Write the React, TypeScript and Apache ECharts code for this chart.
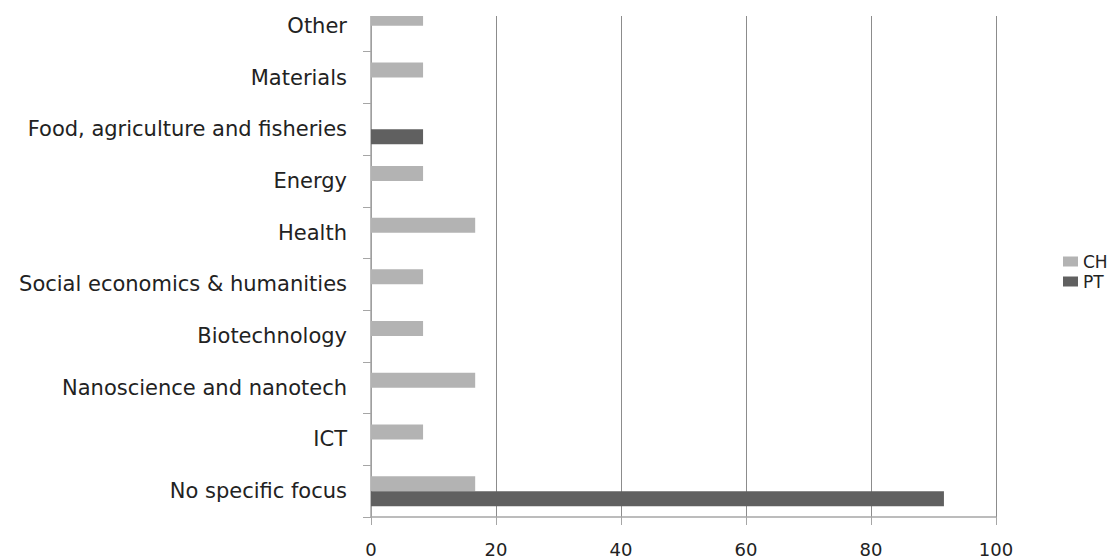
import React, { useEffect, useRef } from "react";
import * as echarts from "echarts";

const categories = [
  "No specific focus",
  "ICT",
  "Nanoscience and nanotech",
  "Biotechnology",
  "Social economics & humanities",
  "Health",
  "Energy",
  "Food, agriculture and fisheries",
  "Materials",
  "Other",
];
const chValues = [16.67, 8.33, 16.67, 8.33, 8.33, 16.67, 8.33, 0, 8.33, 8.33];
const ptValues = [91.67, 0, 0, 0, 0, 0, 0, 8.33, 0, 0];
const xTicks = [0, 20, 40, 60, 80, 100];

export default function App() {
  const ref = useRef<HTMLDivElement>(null);
  useEffect(() => {
    if (!ref.current) return;
    const chart = echarts.init(ref.current, undefined, { renderer: "svg" });
    const font = "'DejaVu Sans', sans-serif";
    chart.setOption({
      animation: false,
      backgroundColor: "#ffffff",
      textStyle: { fontFamily: font },
      grid: { left: 371, right: 116, top: 0, bottom: 42, containLabel: false },
      legend: {
        data: ["CH", "PT"],
        orient: "vertical",
        left: 1058,
        top: 248,
        itemWidth: 15,
        itemHeight: 10,
        itemGap: 3,
        itemStyle: { borderWidth: 0 },
        icon: "rect",
        textStyle: { fontFamily: font, fontSize: 17, color: "#222", padding: [0, 0, 0, 0] },
      },
      xAxis: {
        type: "value",
        min: xTicks[0],
        max: xTicks[xTicks.length - 1],
        interval: 20,
        axisLine: { show: true, lineStyle: { color: "#a6a6a6", width: 1.5 } },
        axisTick: { show: true, length: 8, lineStyle: { color: "#a6a6a6" } },
        axisLabel: {
          margin: 23,
          fontSize: 18,
          lineHeight: 18,
          color: "#222",
          fontFamily: font,
        },
        splitLine: { show: true, lineStyle: { color: "#8c8c8c", width: 1 } },
      },
      yAxis: {
        type: "category",
        data: categories,
        axisLine: { show: true, lineStyle: { color: "#a6a6a6", width: 1.5 } },
        axisTick: { show: true, length: 8, lineStyle: { color: "#a6a6a6" } },
        axisLabel: { margin: 24, fontSize: 21, color: "#222", fontFamily: font },
        splitLine: { show: false },
      },
      series: [
        {
          name: "CH",
          type: "bar",
          data: chValues,
          barWidth: 15,
          barGap: "0%",
          itemStyle: { color: "#b3b3b3" },
        },
        {
          name: "PT",
          type: "bar",
          data: ptValues,
          barWidth: 15,
          barGap: "0%",
          itemStyle: { color: "#606060" },
        },
      ],
      graphic: [
        {
          type: "rect",
          left: 355,
          top: 0,
          shape: { width: 660, height: 16 },
          style: { fill: "#ffffff" },
          z: 100,
        },
      ],
    });
    return () => chart.dispose();
  }, []);
  return (
    <div
      ref={ref}
      style={{ position: "fixed", left: 0, top: 0, width: 1112, height: 559 }}
    />
  );
}
